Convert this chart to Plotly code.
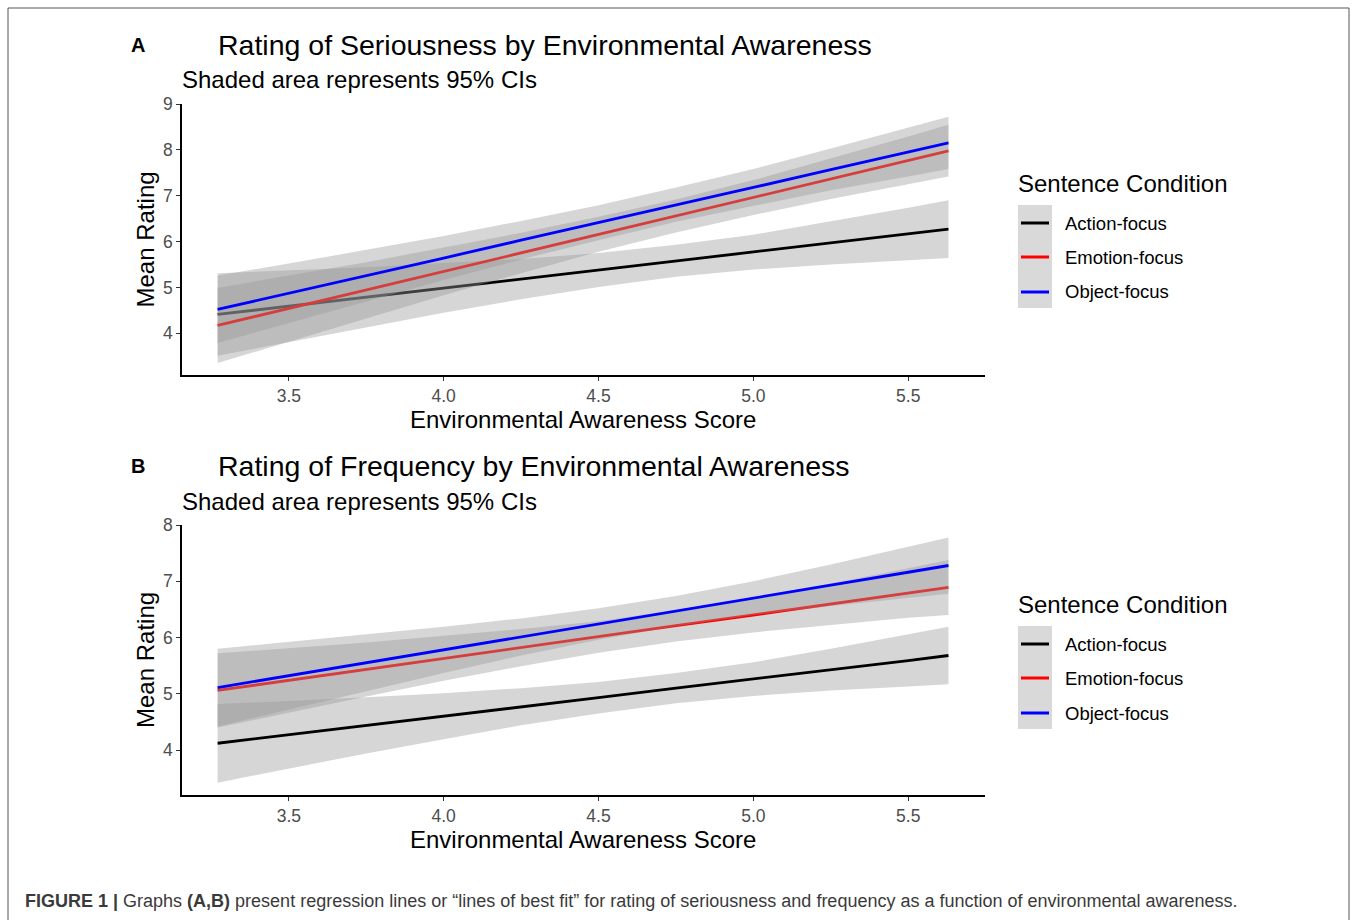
import plotly.graph_objects as go

# ---------------- data ----------------
conditions = ["Action-focus", "Emotion-focus", "Object-focus"]
colors = ["#000000", "#FF0000", "#0000FF"]

x_grid = [3.27, 3.5, 3.75, 4.0, 4.25, 4.5, 4.75, 5.0, 5.25, 5.5, 5.63]

# Panel A: Seriousness
a_action_fit = [4.41, 4.59, 4.79, 4.99, 5.18, 5.38, 5.58, 5.77, 5.97, 6.17, 6.27]
a_action_lo = [3.51, 3.81, 4.14, 4.45, 4.74, 5.01, 5.23, 5.39, 5.50, 5.60, 5.64]
a_action_hi = [5.31, 5.37, 5.44, 5.53, 5.62, 5.75, 5.93, 6.15, 6.44, 6.74, 6.90]
a_emotion_fit = [4.17, 4.54, 4.94, 5.35, 5.75, 6.16, 6.56, 6.96, 7.37, 7.77, 7.98]
a_emotion_lo = [3.35, 3.82, 4.33, 4.83, 5.31, 5.78, 6.20, 6.58, 6.93, 7.25, 7.42]
a_emotion_hi = [4.99, 5.26, 5.55, 5.87, 6.19, 6.54, 6.92, 7.34, 7.81, 8.29, 8.55]
a_object_fit = [4.52, 4.87, 5.26, 5.64, 6.03, 6.41, 6.80, 7.18, 7.57, 7.95, 8.15]
a_object_lo = [3.79, 4.22, 4.70, 5.16, 5.61, 6.03, 6.43, 6.78, 7.12, 7.42, 7.58]
a_object_hi = [5.26, 5.52, 5.82, 6.12, 6.45, 6.79, 7.18, 7.58, 8.03, 8.48, 8.72]

# Panel B: Frequency
b_action_fit = [4.12, 4.27, 4.44, 4.60, 4.77, 4.93, 5.10, 5.26, 5.43, 5.59, 5.68]
b_action_lo = [3.42, 3.67, 3.94, 4.19, 4.44, 4.65, 4.83, 4.96, 5.06, 5.13, 5.17]
b_action_hi = [4.82, 4.87, 4.94, 5.01, 5.10, 5.21, 5.37, 5.56, 5.80, 6.05, 6.19]
b_emotion_fit = [5.06, 5.24, 5.43, 5.63, 5.82, 6.01, 6.21, 6.40, 6.59, 6.79, 6.89]
b_emotion_lo = [4.40, 4.67, 4.95, 5.23, 5.49, 5.73, 5.93, 6.09, 6.22, 6.35, 6.40]
b_emotion_hi = [5.72, 5.81, 5.91, 6.03, 6.15, 6.29, 6.49, 6.71, 6.96, 7.23, 7.38]
b_object_fit = [5.11, 5.32, 5.55, 5.78, 6.01, 6.24, 6.47, 6.70, 6.93, 7.16, 7.28]
b_object_lo = [4.42, 4.72, 5.05, 5.37, 5.68, 5.96, 6.20, 6.40, 6.56, 6.71, 6.78]
b_object_hi = [5.80, 5.92, 6.05, 6.19, 6.34, 6.52, 6.74, 7.00, 7.30, 7.61, 7.78]

x_ticks = [3.5, 4.0, 4.5, 5.0, 5.5]
x_ticklabels = ["3.5", "4.0", "4.5", "5.0", "5.5"]
a_yticks = [4, 5, 6, 7, 8, 9]
b_yticks = [4, 5, 6, 7, 8]

panel_a = [(a_action_fit, a_action_lo, a_action_hi),
           (a_emotion_fit, a_emotion_lo, a_emotion_hi),
           (a_object_fit, a_object_lo, a_object_hi)]
panel_b = [(b_action_fit, b_action_lo, b_action_hi),
           (b_emotion_fit, b_emotion_lo, b_emotion_hi),
           (b_object_fit, b_object_lo, b_object_hi)]

# ---------------- layout helpers ----------------
W, H = 1357, 920
def px(x):
    return x / W
def py(y):
    return 1 - y / H

FONT = "Arial, Liberation Sans, sans-serif"
RIBBON = "rgba(153,153,153,0.4)"

fig = go.Figure()

def add_panel(panel, xa, ya):
    for (fit, lo, hi), col, name in zip(panel, colors, conditions):
        fig.add_trace(go.Scatter(x=x_grid, y=lo, mode="lines", line=dict(width=0),
                                 xaxis=xa, yaxis=ya, showlegend=False, hoverinfo="skip"))
        fig.add_trace(go.Scatter(x=x_grid, y=hi, mode="lines", line=dict(width=0),
                                 fill="tonexty", fillcolor=RIBBON,
                                 xaxis=xa, yaxis=ya, showlegend=False, hoverinfo="skip"))
        fig.add_trace(go.Scatter(x=x_grid, y=fit, mode="lines", line=dict(color=col, width=2.8),
                                 xaxis=xa, yaxis=ya, name=name, showlegend=False))

add_panel(panel_a, "x", "y")
add_panel(panel_b, "x2", "y2")

axis_common = dict(showline=True, linecolor="black", linewidth=1.5, ticks="outside",
                   ticklen=4, tickcolor="#333333", tickwidth=1.2, showgrid=False, zeroline=False,
                   automargin=False,
                   tickfont=dict(family=FONT, size=17.5, color="#4d4d4d"))

xdom = [px(182), px(985)]
fig.update_layout(
    width=W, height=H, margin=dict(l=0, r=0, t=0, b=0, pad=0, autoexpand=False),
    paper_bgcolor="white", plot_bgcolor="white", showlegend=False,
    xaxis=dict(domain=xdom, range=[3.155, 5.748], tickvals=x_ticks, ticktext=x_ticklabels,
               anchor="y", **axis_common),
    yaxis=dict(domain=[py(375), py(104)], range=[3.09, 9.0], tickvals=a_yticks,
               anchor="x", **axis_common),
    xaxis2=dict(domain=xdom, range=[3.155, 5.748], tickvals=x_ticks, ticktext=x_ticklabels,
                anchor="y2", **axis_common),
    yaxis2=dict(domain=[py(795), py(525)], range=[3.2, 8.0], tickvals=b_yticks,
                anchor="x2", **axis_common),
)

ann = []
shapes = []

def text(x, y, s, size, xanchor="left", color="black", textangle=0, bold=False):
    ann.append(dict(x=px(x), y=py(y), xref="paper", yref="paper", text=("<b>%s</b>" % s) if bold else s,
                    showarrow=False, xanchor=xanchor, yanchor="middle", textangle=textangle,
                    font=dict(family=FONT, size=size, color=color)))

panel_specs = [
    dict(letter="A", title="Rating of Seriousness by Environmental Awareness", top=45,
         plot_top=104, plot_bottom=375, legend_title=183, keys=[223, 257, 292], box=(205, 308)),
    dict(letter="B", title="Rating of Frequency by Environmental Awareness", top=466,
         plot_top=525, plot_bottom=795, legend_title=604, keys=[644, 678, 713], box=(626, 729)),
]

for sp in panel_specs:
    text(129, sp["top"], sp["letter"], 20, bold=True)
    text(216, sp["top"], sp["title"], 28.5)
    text(180, sp["top"] + 35, "Shaded area represents 95% CIs", 24)
    text(145, (sp["plot_top"] + sp["plot_bottom"]) / 2, "Mean Rating", 24, xanchor="center", textangle=-90)
    text(583, sp["plot_bottom"] + 44, "Environmental Awareness Score", 24, xanchor="center")
    # legend
    text(1016, sp["legend_title"], "Sentence Condition", 24)
    b0, b1 = sp["box"]
    shapes.append(dict(type="rect", xref="paper", yref="paper", x0=px(1018), x1=px(1052),
                       y0=py(b1), y1=py(b0), fillcolor="#d9d9d9", line=dict(width=0), layer="below"))
    for ky, col, name in zip(sp["keys"], colors, conditions):
        shapes.append(dict(type="line", xref="paper", yref="paper", x0=px(1021), x1=px(1049),
                           y0=py(ky), y1=py(ky), line=dict(color=col, width=3)))
        text(1063, ky, name, 18.5)

# caption
ann.append(dict(x=px(23), y=py(901), xref="paper", yref="paper", showarrow=False,
                xanchor="left", yanchor="middle",
                text="<b>FIGURE 1 |</b> Graphs <b>(A,B)</b> present regression lines or \u201clines of best fit\u201d "
                     "for rating of seriousness and frequency as a function of environmental awareness.",
                font=dict(family=FONT, size=18, color="#3a3a3a")))

# outer frame
shapes.append(dict(type="rect", xref="paper", yref="paper", x0=px(8), x1=px(1349),
                   y0=-0.02, y1=py(8), line=dict(color="#555555", width=1), fillcolor="rgba(0,0,0,0)"))

fig.update_layout(annotations=ann, shapes=shapes)

fix_page = ("document.body.style.margin='0';document.body.style.overflow='hidden';"
            "var gd=document.getElementById('{plot_id}');gd.style.position='fixed';"
            "gd.style.left='0px';gd.style.top='0px';")
fig.write_html("out.html", post_script=fix_page, config={"displayModeBar": False})
